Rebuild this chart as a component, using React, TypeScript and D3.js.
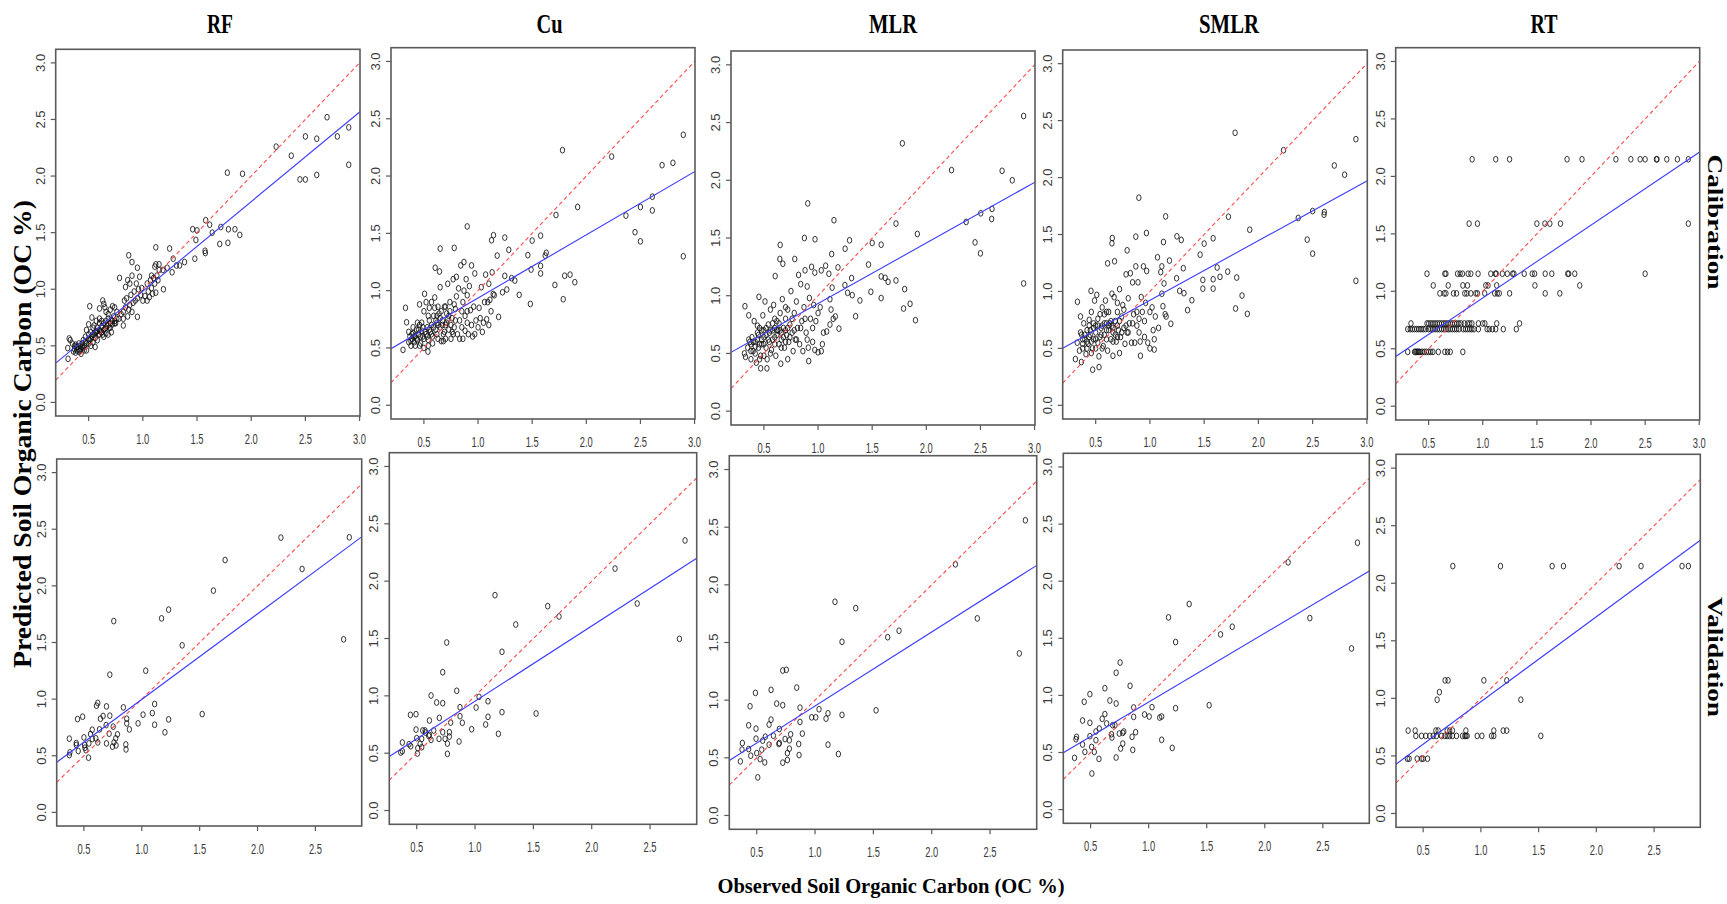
import React from "react";
import * as d3 from "d3";

type P = [number, number];

const models = ["RF", "Cu", "MLR", "SMLR", "RT"];
const rowLabels = ["Calibration", "Validation"];
const xAxisTitle = "Observed Soil Organic Carbon (OC %)";
const yAxisTitle = "Predicted Soil Organic Carbon (OC %)";
const calXDomain: P = [0.196, 3.004];
const valXDomain: P = [0.265, 2.9];
const yDomain: P = [-0.12, 3.12];
const calXTicks = [0.5, 1.0, 1.5, 2.0, 2.5, 3.0];
const valXTicks = [0.5, 1.0, 1.5, 2.0, 2.5];
const yTicks = [0, 0.5, 1.0, 1.5, 2.0, 2.5, 3.0];

// ---------- calibration data (observed, predicted) ----------
const rfCal: P[] = [
  [2.9,2.43],[2.9,2.10],[2.795,2.35],[2.70,2.52],[2.605,2.33],[2.605,2.01],[2.5,2.35],[2.5,1.97],[2.45,1.97],[2.37,2.18],[2.23,2.26],[1.92,2.02],[1.78,2.03],[1.895,1.48],[1.85,1.53],[1.79,1.53],[1.785,1.41],[1.71,1.40],[1.72,1.55],[1.64,1.50],[1.617,1.57],[1.58,1.61],[1.574,1.34],[1.577,1.32],[1.50,1.52],[1.46,1.53],[1.49,1.435],[1.48,1.27],[1.385,1.24],[1.34,1.21],[1.31,1.21],[1.28,1.27],[1.27,1.15],[1.247,1.36],[1.225,1.19],[1.19,1.00],[1.186,1.17],[1.15,1.22],[1.12,1.37],[1.11,1.20],[0.87,1.30],[0.9,1.24],[0.95,1.19],[0.785,1.10],[0.51,0.85],[0.60,0.83],[0.97,1.11],[0.95,0.756],[0.82,0.68],[0.31,0.385],[0.32,0.565],[0.307,0.48],
  [0.36,0.45],[0.37,0.47],[0.38,0.44],[0.39,0.46],[0.40,0.49],[0.41,0.45],[0.42,0.5],[0.43,0.47],[0.44,0.52],[0.45,0.48],[0.46,0.5],[0.47,0.53],[0.48,0.46],[0.35,0.52],[0.33,0.55],[0.38,0.51],[0.43,0.43],[0.45,0.55],
  [0.5,0.52],[0.51,0.55],[0.52,0.5],[0.53,0.58],[0.54,0.53],[0.55,0.6],[0.56,0.57],[0.57,0.62],[0.58,0.55],[0.59,0.6],[0.6,0.64],[0.52,0.62],[0.55,0.68],[0.57,0.72],[0.5,0.69],[0.53,0.75],[0.48,0.64],[0.6,0.7],[0.58,0.66],[0.56,0.49],
  [0.61,0.63],[0.62,0.67],[0.63,0.6],[0.64,0.7],[0.65,0.65],[0.66,0.72],[0.67,0.68],[0.68,0.74],[0.69,0.66],[0.7,0.7],[0.71,0.73],[0.72,0.69],[0.73,0.76],[0.74,0.72],[0.75,0.7],[0.63,0.9],[0.64,0.87],[0.65,0.84],[0.66,0.8],[0.68,0.78],[0.7,0.82],[0.72,0.85],[0.74,0.84],[0.76,0.8],[0.64,0.58],[0.68,0.6],[0.71,0.62],[0.66,0.61],
  [0.78,0.74],[0.8,0.78],[0.82,0.8],[0.83,0.9],[0.84,1.02],[0.85,0.92],[0.86,0.76],[0.87,0.82],[0.88,0.86],[0.89,0.95],[0.9,0.8],[0.91,0.88],[0.92,0.98],[0.93,0.9],[0.94,1.05],[0.95,0.92],[0.96,1.0],[0.98,0.95],[0.99,1.01],[0.88,1.05],[0.9,1.12],[0.86,1.08],[0.82,0.74],[0.84,0.84],
  [1.0,0.9],[1.02,0.94],[1.04,1.05],[1.05,0.98],[1.06,0.93],[1.07,1.08],[1.08,1.01],[1.09,0.96],[1.1,1.1],[1.11,1.05],[1.12,0.97],[1.13,1.12],[1.14,1.08],[1.15,1.17],[1.08,1.12],[1.12,1.22],[1.04,0.9],
  [0.37,0.5],[0.39,0.49],[0.41,0.52],[0.42,0.46],[0.44,0.49],[0.46,0.46],[0.48,0.52],[0.5,0.56],[0.52,0.56],[0.54,0.6],[0.56,0.62],[0.58,0.63],[0.6,0.6],[0.62,0.62],[0.64,0.64],[0.66,0.66],[0.68,0.68],[0.7,0.66],[0.72,0.72],[0.74,0.7],[0.76,0.74],[0.54,0.66],[0.6,0.74],[0.62,0.72],[0.5,0.6],[0.47,0.58]
];

const cuCal: P[] = [
  [2.896,2.36],[2.896,1.30],[2.80,2.115],[2.70,2.095],[2.61,1.82],[2.61,1.70],[2.50,1.73],[2.50,1.43],[2.45,1.51],[2.366,1.655],[2.234,2.17],[1.78,2.226],[1.92,1.73],[1.72,1.66],[1.894,1.074],[1.85,1.14],[1.80,1.13],[1.787,0.925],[1.71,1.05],[1.63,1.33],[1.578,1.48],[1.578,1.216],[1.578,1.15],[1.62,1.306],[1.5,1.437],[1.49,1.184],[1.483,0.884],[1.46,1.31],[1.38,0.963],[1.34,1.088],[1.31,1.109],[1.284,1.356],[1.247,1.463],[1.247,1.129],[1.266,1.01],[1.226,0.986],[1.143,1.484],[1.125,1.44],[1.177,1.306],[1.19,0.771],[0.90,1.56],[0.78,1.373],[0.65,1.367],[0.604,1.2],[0.644,1.167],[0.33,0.85],[0.34,0.724],[0.307,0.483],[0.537,0.468],[0.506,0.972],
  [0.36,0.55],[0.37,0.6],[0.38,0.52],[0.39,0.58],[0.4,0.63],[0.41,0.55],[0.42,0.6],[0.43,0.66],[0.44,0.57],[0.45,0.62],[0.46,0.7],[0.47,0.54],[0.48,0.65],[0.49,0.6],[0.4,0.68],[0.44,0.72],[0.36,0.64],[0.46,0.88],[0.5,0.58],[0.5,0.82],[0.42,0.52],[0.48,0.72],
  [0.52,0.62],[0.53,0.68],[0.54,0.57],[0.55,0.74],[0.56,0.64],[0.57,0.9],[0.58,0.6],[0.59,0.78],[0.6,0.85],[0.61,0.66],[0.62,0.72],[0.63,0.58],[0.64,0.8],[0.65,0.68],[0.52,0.9],[0.55,0.85],[0.6,0.94],[0.63,0.86],[0.57,0.7],[0.62,0.62],[0.54,0.78],[0.65,1.03],[0.66,0.56],
  [0.67,0.74],[0.68,0.62],[0.69,0.86],[0.7,0.7],[0.71,0.8],[0.72,1.06],[0.73,0.66],[0.74,0.9],[0.75,0.58],[0.76,0.76],[0.77,1.1],[0.78,0.68],[0.79,0.84],[0.8,0.95],[0.7,0.58],[0.72,0.75],[0.76,0.64],[0.78,0.88],[0.8,1.12],
  [0.81,0.62],[0.82,1.02],[0.83,0.74],[0.84,1.22],[0.85,0.68],[0.86,0.58],[0.87,1.0],[0.87,1.25],[0.88,0.78],[0.89,1.1],[0.9,0.72],[0.91,0.62],[0.92,1.04],[0.93,0.83],[0.94,1.22],[0.95,0.6],[0.96,0.86],[0.97,1.15],[0.86,0.9],[0.9,0.96],[0.88,0.65],
  [0.98,0.74],[1.0,0.68],[1.01,0.85],[1.02,0.76],[1.03,1.03],[1.05,0.72],[1.06,0.9],[1.07,1.14],[1.08,0.75],[1.09,0.9],[1.1,1.06],[1.11,0.92],[1.12,0.82],[1.13,1.16],[1.15,0.96],[1.04,0.64],[1.1,0.7],[1.14,0.97],
  [0.38,0.56],[0.39,0.62],[0.41,0.6],[0.43,0.58],[0.45,0.66],[0.47,0.6],[0.49,0.68],[0.51,0.64],[0.53,0.6],[0.55,0.66],[0.57,0.62],[0.59,0.68],[0.61,0.74],[0.63,0.7],[0.65,0.76],[0.67,0.7],[0.69,0.64],[0.71,0.72],[0.73,0.78],[0.75,0.7],[0.77,0.62],[0.79,0.74],[0.62,0.78],[0.66,0.82],[0.68,0.56],[0.58,0.54],[0.54,0.52],[0.46,0.52],[0.5,0.5],[0.85,0.82],[0.9,0.82],[0.94,0.7],[0.97,0.62],[0.83,0.58],[0.74,0.82],[0.7,0.86]
];

const mlrCal: P[] = [
  [2.899,2.557],[2.899,1.106],[2.794,2.0],[2.70,2.082],[2.607,1.752],[2.604,1.665],[2.503,1.714],[2.5,1.367],[2.45,1.462],[2.368,1.639],[2.233,2.088],[1.779,2.32],[1.917,1.535],[1.72,1.625],[1.90,0.788],[1.85,0.93],[1.80,1.057],[1.79,0.889],[1.72,1.132],[1.647,1.12],[1.62,1.155],[1.583,1.167],[1.583,0.98],[1.583,1.442],[1.5,1.457],[1.488,1.034],[1.466,1.27],[1.387,0.959],[1.347,0.822],[1.31,1.153],[1.291,1.48],[1.25,1.407],[1.248,1.092],[1.273,1.025],[1.316,1.005],[1.147,1.654],[1.126,1.361],[1.184,1.245],[1.193,0.715],[0.905,1.80],[0.874,1.5],[0.972,1.489],[0.65,1.44],[0.647,1.318],[0.675,1.277],[0.785,1.318],[0.604,1.17],[0.325,0.909],[0.454,0.99],[0.914,0.434],[0.47,0.371],[0.528,0.371],[0.656,0.411],[1.0,0.51],[1.03,0.52],[0.97,0.53],[0.72,0.45],
  [0.32,0.5],[0.33,0.47],[0.35,0.55],[0.36,0.83],[0.37,0.6],[0.38,0.45],[0.39,0.64],[0.4,0.52],[0.41,0.78],[0.42,0.6],[0.43,0.42],[0.44,0.68],[0.45,0.55],[0.46,0.72],[0.47,0.48],[0.48,0.62],[0.49,0.83],[0.5,0.58],[0.51,0.95],[0.52,0.66],[0.53,0.45],[0.54,0.75],[0.55,0.6],[0.56,0.88],[0.57,0.53],[0.58,0.7],[0.59,0.92],[0.6,0.64],[0.61,0.48],[0.62,0.78],[0.63,0.7],[0.64,0.58],[0.65,0.85],[0.66,0.62],[0.67,0.97],[0.68,0.72],[0.69,0.55],[0.7,0.8],[0.71,0.66],[0.72,0.88],[0.73,0.6],[0.74,0.75],[0.75,1.04],[0.76,0.68],[0.77,0.52],[0.78,0.85],[0.79,0.62],[0.8,0.95],[0.81,0.72],[0.82,1.18],[0.83,0.58],[0.84,1.1],[0.85,0.78],[0.86,0.52],[0.87,0.9],[0.88,1.22],[0.89,0.68],[0.9,1.08],[0.91,0.55],[0.92,0.98],[0.93,0.8],[0.94,1.25],[0.95,0.6],[0.96,0.92],[0.97,1.2],[0.98,0.78],[1.0,0.85],[1.02,0.9],[1.03,1.22],[1.05,0.68],[1.07,1.26],[1.08,0.69],[1.1,1.19],[1.11,0.75],[1.12,0.88],[1.13,1.07],[1.14,0.8],[1.16,0.82],[0.45,0.66],[0.5,0.7],[0.55,0.68],[0.6,0.72],[0.48,0.58],[0.58,0.62],[0.65,0.7],[0.7,0.7],[0.62,0.66],[0.52,0.55],[0.42,0.56],[0.38,0.58],[1.11,0.97],[1.04,0.58],
  [0.38,0.52],[0.4,0.6],[0.42,0.5],[0.44,0.62],[0.46,0.58],[0.48,0.7],[0.5,0.64],[0.52,0.72],[0.54,0.62],[0.56,0.7],[0.58,0.76],[0.6,0.58],[0.62,0.7],[0.64,0.76],[0.66,0.68],[0.68,0.64],[0.7,0.6],[0.72,0.72],[0.74,0.64],[0.76,0.8],[0.78,0.7],[0.8,0.62],[0.5,0.48],[0.46,0.45],[0.56,0.5],[0.66,0.55],[0.84,0.72],[0.88,0.8],[0.9,0.62],[0.95,0.72],[0.6,0.8],[0.7,0.9],[0.44,0.74],[0.36,0.62]
];

const smlrCal: P[] = [
  [2.899,2.337],[2.899,1.093],[2.795,2.025],[2.70,2.106],[2.608,1.697],[2.605,1.674],[2.50,1.706],[2.50,1.332],[2.45,1.455],[2.367,1.645],[2.232,2.24],[1.785,2.393],[1.92,1.542],[1.724,1.656],[1.898,0.803],[1.849,0.964],[1.80,1.122],[1.79,0.85],[1.717,1.174],[1.646,1.128],[1.62,1.21],[1.583,1.107],[1.583,1.025],[1.583,1.467],[1.5,1.42],[1.488,1.101],[1.488,1.025],[1.463,1.323],[1.387,0.923],[1.347,0.836],[1.314,0.985],[1.308,1.204],[1.289,1.452],[1.249,1.484],[1.246,1.116],[1.274,1.005],[1.145,1.659],[1.125,1.434],[1.18,1.271],[1.193,0.716],[0.898,1.823],[0.870,1.481],[0.968,1.513],[0.653,1.469],[0.650,1.423],[0.674,1.265],[0.79,1.361],[0.61,1.247],[0.332,0.909],[0.457,1.005],[0.913,0.435],[0.472,0.313],[0.531,0.336],[0.659,0.435],[0.72,0.459],[1.0,0.5],[1.04,0.49],[0.313,0.406],[0.368,0.38],
  [0.33,0.55],[0.35,0.48],[0.36,0.78],[0.37,0.62],[0.38,0.5],[0.39,0.72],[0.4,0.58],[0.41,0.45],[0.42,0.66],[0.43,0.54],[0.44,0.75],[0.45,0.62],[0.46,0.82],[0.47,0.5],[0.48,0.68],[0.49,0.92],[0.5,0.58],[0.51,0.97],[0.52,0.7],[0.53,0.43],[0.54,0.8],[0.55,0.62],[0.56,0.86],[0.57,0.52],[0.58,0.72],[0.59,0.92],[0.6,0.66],[0.61,0.48],[0.62,0.82],[0.63,0.72],[0.64,0.58],[0.65,0.98],[0.66,0.64],[0.67,0.95],[0.68,0.74],[0.69,0.56],[0.7,0.82],[0.71,0.66],[0.72,1.02],[0.73,0.6],[0.74,0.78],[0.75,0.88],[0.76,0.68],[0.77,0.54],[0.78,1.15],[0.79,0.64],[0.8,0.94],[0.81,0.72],[0.82,1.16],[0.83,0.55],[0.84,1.08],[0.85,0.8],[0.86,0.55],[0.87,1.22],[0.88,0.7],[0.89,1.08],[0.9,0.76],[0.91,0.56],[0.92,0.95],[0.93,0.82],[0.94,1.22],[0.95,0.6],[0.96,0.9],[0.97,1.18],[0.98,0.55],[1.0,0.82],[1.02,0.86],[1.03,0.66],[1.05,0.78],[1.07,1.3],[1.08,0.68],[1.1,1.17],[1.11,0.98],[1.12,0.87],[1.13,1.07],[1.14,0.8],[1.15,0.78],[0.45,0.66],[0.5,0.7],[0.55,0.68],[0.6,0.72],[0.48,0.58],[0.58,0.62],[0.65,0.7],[0.7,0.7],[0.62,0.66],[0.52,0.55],[0.42,0.56],[0.38,0.58],[1.11,1.22],[1.04,0.58],
  [0.38,0.54],[0.4,0.62],[0.42,0.5],[0.44,0.6],[0.46,0.56],[0.48,0.72],[0.5,0.64],[0.52,0.76],[0.54,0.6],[0.56,0.7],[0.58,0.8],[0.6,0.58],[0.62,0.7],[0.64,0.74],[0.66,0.68],[0.68,0.62],[0.7,0.6],[0.72,0.74],[0.74,0.64],[0.76,0.84],[0.78,0.7],[0.8,0.64],[0.5,0.5],[0.46,0.46],[0.56,0.5],[0.66,0.56],[0.84,0.72],[0.88,0.82],[0.9,0.64],[0.95,0.74],[0.6,0.82],[0.7,0.9],[0.44,0.7],[0.36,0.64]
];

// RT predictions take few discrete values
const rtCalLevels = [2.149, 1.589, 1.153, 1.051, 0.982, 0.72, 0.671, 0.473];
const rtCalObs: number[][] = [
  [0.902,1.12,1.248,1.779,1.917,2.23,2.368,2.454,2.5,2.604,2.61,2.70,2.798,2.899],
  [0.874,0.951,1.5,1.574,1.62,1.718,2.899],
  [0.485,0.65,0.66,0.767,0.791,0.813,0.865,0.89,0.957,1.074,1.117,1.125,1.181,1.227,1.276,1.288,1.383,1.457,1.479,1.577,1.638,1.785,1.794,1.85,2.5],
  [0.543,0.681,0.816,0.859,1.028,1.049,1.129,1.482,1.896],
  [0.604,0.644,0.66,0.73,0.758,0.834,0.853,0.89,0.936,0.951,1.018,1.11,1.135,1.153,1.248,1.577,1.712],
  [0.337,0.485,0.5,0.52,0.54,0.56,0.58,0.6,0.62,0.64,0.66,0.68,0.7,0.72,0.74,0.76,0.78,0.8,0.83,0.86,0.88,0.9,0.96,1.0,1.02,1.129,1.34],
  [0.307,0.33,0.35,0.37,0.39,0.41,0.43,0.45,0.47,0.5,0.52,0.54,0.56,0.58,0.6,0.62,0.64,0.66,0.68,0.7,0.72,0.74,0.76,0.78,0.82,0.84,0.86,0.88,0.9,0.92,0.96,1.04,1.06,1.09,1.12,1.19,1.31],
  [0.307,0.37,0.38,0.39,0.4,0.41,0.42,0.44,0.46,0.48,0.5,0.52,0.54,0.59,0.65,0.675,0.70,0.816]
];

// ---------- validation data ----------
const rfVal: P[] = [
  [2.793,2.429],[2.744,1.528],[2.385,2.149],[2.202,2.426],[1.72,2.228],[1.619,1.958],[1.232,1.79],[1.171,1.713],[1.349,1.475],[1.522,0.868],[1.034,1.251],[0.758,1.689],[0.724,1.216],[1.111,0.957],[1.091,0.877],[1.111,0.774],[1.232,0.821],[1.2,0.707],[1.011,0.863],[0.968,0.786],[0.841,0.927],[0.87,0.827],[0.87,0.786],[0.893,0.733],[0.862,0.6],[0.864,0.556],[0.79,0.689],[0.775,0.654],[0.76,0.618],[0.778,0.592],[0.747,0.58],[0.695,0.936],[0.724,0.854],[0.666,0.851],[0.643,0.827],[0.692,0.771],[0.753,0.757],[0.718,0.695],[0.695,0.609],[0.62,0.966],[0.609,0.942],[0.635,0.733],[0.62,0.618],[0.603,0.654],[0.572,0.73],[0.572,0.648],[0.543,0.609],[0.5,0.662],[0.489,0.845],[0.445,0.824],[0.434,0.612],[0.451,0.542],[0.434,0.595],[0.506,0.595],[0.517,0.55],[0.54,0.483],[0.374,0.651],[0.379,0.53],[0.374,0.506],[0.509,0.571],[0.557,0.692]
];
const cuVal: P[] = [
  [2.8,2.355],[2.752,1.497],[2.39,1.805],[2.2,2.11],[1.72,1.692],[1.623,1.782],[1.523,0.846],[1.349,1.622],[1.231,1.384],[1.231,0.858],[1.171,1.878],[1.2,0.669],[1.111,0.953],[1.111,0.817],[1.091,0.75],[1.034,0.991],[1.009,0.898],[0.971,0.709],[0.891,0.765],[0.871,0.901],[0.871,0.823],[0.863,0.602],[0.843,1.044],[0.791,0.767],[0.78,0.683],[0.78,0.645],[0.763,0.584],[0.763,0.494],[0.757,1.465],[0.723,1.206],[0.723,0.936],[0.723,0.683],[0.694,0.808],[0.691,0.625],[0.743,0.625],[0.671,0.942],[0.623,1.003],[0.609,0.785],[0.646,0.698],[0.623,0.616],[0.603,0.651],[0.571,0.698],[0.551,0.698],[0.543,0.625],[0.5,0.631],[0.494,0.706],[0.494,0.84],[0.446,0.834],[0.434,0.578],[0.449,0.561],[0.509,0.544],[0.506,0.497],[0.529,0.581],[0.543,0.552],[0.377,0.593],[0.377,0.517],[0.363,0.506],[0.609,0.66],[0.575,0.68]
];
const mlrVal: P[] = [
  [2.803,2.56],[2.751,1.405],[2.391,1.709],[2.203,2.178],[1.72,1.602],[1.623,1.546],[1.523,0.912],[1.349,1.798],[1.231,1.506],[1.231,0.872],[1.171,1.853],[1.2,0.533],[1.111,0.886],[1.111,0.614],[1.094,0.84],[1.034,0.921],[1.006,0.851],[0.971,0.851],[0.891,0.71],[0.871,0.811],[0.871,0.935],[0.863,0.524],[0.86,0.62],[0.843,1.109],[0.791,0.704],[0.78,0.652],[0.78,0.579],[0.763,0.541],[0.763,0.481],[0.754,1.263],[0.723,1.257],[0.723,0.956],[0.723,0.458],[0.694,0.75],[0.694,0.628],[0.743,0.663],[0.671,0.97],[0.623,1.089],[0.606,0.788],[0.643,0.692],[0.606,0.614],[0.574,0.683],[0.551,0.649],[0.543,0.571],[0.5,0.541],[0.494,0.666],[0.494,0.753],[0.489,1.063],[0.443,0.947],[0.431,0.782],[0.431,0.576],[0.449,0.518],[0.529,0.489],[0.569,0.46],[0.509,0.33],[0.377,0.628],[0.374,0.571],[0.36,0.469],[0.623,0.831],[0.69,0.62]
];
const smlrVal: P[] = [
  [2.798,2.337],[2.747,1.411],[2.388,1.677],[2.201,2.165],[1.72,1.601],[1.619,1.534],[1.521,0.914],[1.349,1.8],[1.232,1.467],[1.232,0.888],[1.171,1.683],[1.203,0.54],[1.112,0.815],[1.112,0.611],[1.095,0.806],[1.029,0.897],[1.005,0.815],[0.965,0.833],[0.888,0.678],[0.871,0.812],[0.871,0.894],[0.863,0.523],[0.857,0.637],[0.84,1.084],[0.786,0.684],[0.777,0.672],[0.777,0.578],[0.759,0.535],[0.754,1.288],[0.72,1.198],[0.72,0.929],[0.72,0.456],[0.69,0.739],[0.684,0.631],[0.747,0.666],[0.666,0.955],[0.623,1.063],[0.6,0.795],[0.638,0.754],[0.623,0.836],[0.575,0.71],[0.546,0.684],[0.546,0.608],[0.494,0.643],[0.494,0.76],[0.494,1.011],[0.445,0.944],[0.431,0.78],[0.431,0.57],[0.451,0.505],[0.509,0.549],[0.532,0.505],[0.572,0.444],[0.511,0.316],[0.379,0.637],[0.374,0.616],[0.362,0.453],[0.68,0.66],[0.71,0.74]
];
const rtValLevels = [2.149, 1.156, 1.054, 0.988, 0.72, 0.674, 0.476];
const rtValObs: number[][] = [
  [0.757,1.17,1.617,1.715,2.197,2.387,2.742,2.797],
  [0.69,0.716,1.026,1.224],
  [0.641],
  [0.621,1.346],
  [0.37,0.431,0.61,0.63,0.708,0.73,0.754,0.87,1.112,1.193,1.224],
  [0.437,0.486,0.523,0.558,0.587,0.615,0.659,0.688,0.708,0.73,0.754,0.789,0.841,0.861,0.87,0.881,0.968,1.009,1.092,1.112,1.519],
  [0.364,0.379,0.448,0.486,0.5,0.538]
];

// fitted regression lines: [intercept, slope]
const calFits: P[] = [[0.192, 0.791], [0.385, 0.551], [0.407, 0.525], [0.398, 0.524], [0.308, 0.634]];
const valFits: P[] = [[0.243, 0.755], [0.297, 0.656], [0.307, 0.642], [0.337, 0.604], [0.232, 0.7385]];

const levelsToPoints = (levels: number[], obs: number[][]): P[] =>
  levels.flatMap((lv, i) => obs[i].map((o) => [o, lv] as P));

const calData: P[][] = [rfCal, cuCal, mlrCal, smlrCal, levelsToPoints(rtCalLevels, rtCalObs)];
const valData: P[][] = [rfVal, cuVal, mlrVal, smlrVal, levelsToPoints(rtValLevels, rtValObs)];

// ---------- layout ----------
const calBoxes = [
  [55.7, 49.3, 360, 416],
  [391, 47.7, 695, 419],
  [731, 51, 1035, 425],
  [1062.7, 50, 1367.3, 419],
  [1395.7, 47.7, 1699.7, 420],
];
const valBoxes = [
  [56.7, 459, 361.7, 826],
  [389.3, 452.7, 696.7, 824.3],
  [729.3, 455.7, 1036.7, 829.3],
  [1063.3, 453.3, 1369.3, 823.3],
  [1396, 454.3, 1700.3, 827.3],
];
const titleLayout = [
  [220, 26],
  [549.5, 26],
  [893, 48],
  [1229, 60],
  [1544, 27],
];

const serif = "'Liberation Serif', 'Times New Roman', serif";
const sans = "'Liberation Sans', Arial, sans-serif";

function Panel(props: { id: string; box: number[]; xDomain: P; xTicks: number[]; points: P[]; fit: P }) {
  const { id, box, xDomain, xTicks, points, fit } = props;
  const [l, t, r, b] = box;
  const x = d3.scaleLinear().domain(xDomain).range([l, r]);
  const y = d3.scaleLinear().domain(yDomain).range([b, t]);
  const line = d3.line<P>().x((d) => x(d[0])).y((d) => y(d[1]));
  const [x0, x1] = xDomain;
  const oneToOne = line([[x0, x0], [x1, x1]]) || "";
  const fitPath = line([[x0, fit[0] + fit[1] * x0], [x1, fit[0] + fit[1] * x1]]) || "";
  const fmt = d3.format(".1f");
  return (
    <g>
      <defs>
        <clipPath id={id}>
          <rect x={l} y={t} width={r - l} height={b - t} />
        </clipPath>
      </defs>
      <g clipPath={`url(#${id})`}>
        {points.map((p, i) => (
          <ellipse key={i} cx={x(p[0])} cy={y(p[1])} rx={2.2} ry={2.9} fill="none" stroke="#111" strokeWidth={0.85} />
        ))}
        <path d={oneToOne} stroke="#ff4a4a" strokeWidth={1.1} strokeDasharray="4,3" fill="none" />
        <path d={fitPath} stroke="#3b3bff" strokeWidth={1.1} fill="none" />
      </g>
      <rect x={l} y={t} width={r - l} height={b - t} fill="none" stroke="#5a5a5a" strokeWidth={1.6} />
      {xTicks.map((v) => (
        <g key={"x" + v}>
          <line x1={x(v)} x2={x(v)} y1={b} y2={b + 5} stroke="#5a5a5a" strokeWidth={1.2} />
          <text x={x(v)} y={b + 27.5} textAnchor="middle" fontFamily={sans} fontSize={15} fill="#3a3a3a" textLength={13} lengthAdjust="spacingAndGlyphs">
            {fmt(v)}
          </text>
        </g>
      ))}
      {yTicks.map((v) => (
        <g key={"y" + v}>
          <line x1={l - 5} x2={l} y1={y(v)} y2={y(v)} stroke="#5a5a5a" strokeWidth={1.2} />
          <text transform={`translate(${l - 11},${y(v)}) rotate(-90)`} textAnchor="middle" fontFamily={sans} fontSize={13} fill="#3a3a3a">
            {fmt(v)}
          </text>
        </g>
      ))}
    </g>
  );
}

export default function App() {
  return (
    <svg width={1727} height={904} style={{ position: "absolute", left: 0, top: 0, background: "#fff" }}>
      <rect x={0} y={0} width={1727} height={904} fill="#fff" />
      {models.map((m, i) => (
        <text key={m} x={titleLayout[i][0]} y={33} textAnchor="middle" fontFamily={serif} fontWeight="bold" fontSize={27} fill="#000" textLength={titleLayout[i][1]} lengthAdjust="spacingAndGlyphs">
          {m}
        </text>
      ))}
      {models.map((m, i) => (
        <Panel key={"c" + m} id={"clipc" + i} box={calBoxes[i]} xDomain={calXDomain} xTicks={calXTicks} points={calData[i]} fit={calFits[i]} />
      ))}
      {models.map((m, i) => (
        <Panel key={"v" + m} id={"clipv" + i} box={valBoxes[i]} xDomain={valXDomain} xTicks={valXTicks} points={valData[i]} fit={valFits[i]} />
      ))}
      <text transform="translate(1708,222) rotate(90)" textAnchor="middle" fontFamily={serif} fontWeight="bold" fontSize={22} textLength={135} lengthAdjust="spacingAndGlyphs">
        {rowLabels[0]}
      </text>
      <text transform="translate(1708,657) rotate(90)" textAnchor="middle" fontFamily={serif} fontWeight="bold" fontSize={22} textLength={120} lengthAdjust="spacingAndGlyphs">
        {rowLabels[1]}
      </text>
      <text x={891} y={893} textAnchor="middle" fontFamily={serif} fontWeight="bold" fontSize={22} textLength={347} lengthAdjust="spacingAndGlyphs">
        {xAxisTitle}
      </text>
      <text transform="translate(31,434) rotate(-90)" textAnchor="middle" fontFamily={serif} fontWeight="bold" fontSize={25} textLength={468} lengthAdjust="spacingAndGlyphs">
        {yAxisTitle}
      </text>
    </svg>
  );
}
